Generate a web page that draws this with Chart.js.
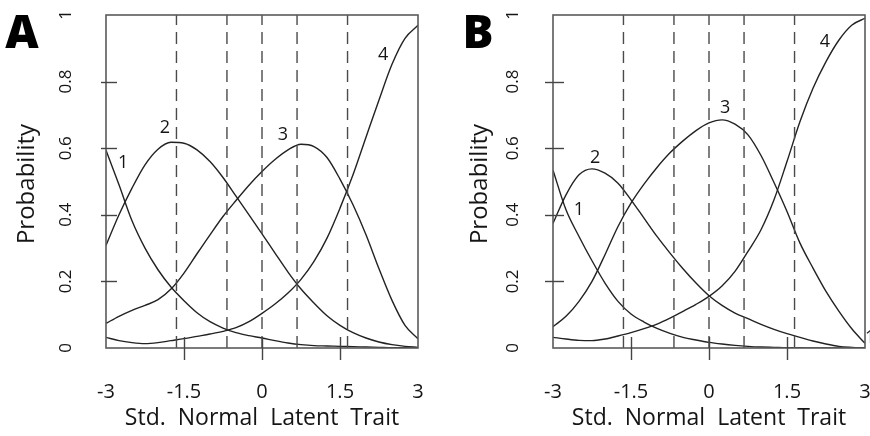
<!DOCTYPE html>
<html>
<head>
<meta charset="utf-8">
<script src="https://cdn.jsdelivr.net/npm/chart.js@4.4.1/dist/chart.umd.min.js"></script>
<style>
  html, body { margin: 0; padding: 0; background: #fff; }
  #wrap { position: relative; width: 870px; height: 436px; overflow: hidden; }
  canvas { position: absolute; top: 0; }
</style>
</head>
<body>
<div id="wrap">
  <canvas id="chartA" width="435" height="436" style="left:0"></canvas>
  <canvas id="chartB" width="435" height="436" style="left:435px"></canvas>
</div>
<script>
// latent trait grid
const traitX = [-3, -2.75, -2.5, -2.25, -2, -1.75, -1.5, -1.25, -1, -0.75, -0.5, -0.25, 0,
  0.25, 0.5, 0.75, 1, 1.25, 1.5, 1.75, 2, 2.25, 2.5, 2.75, 3];

// panel A category curves
const a1 = [0.594, 0.49, 0.382, 0.3, 0.235, 0.183, 0.142, 0.106, 0.079, 0.06, 0.046, 0.037, 0.03,
  0.022, 0.015, 0.01, 0.007, 0.006, 0.005, 0.004, 0.003, 0.002, 0.001, 0.001, 0.0];
const a2 = [0.308, 0.40, 0.48, 0.55, 0.597, 0.618, 0.615, 0.595, 0.56, 0.512, 0.456, 0.40, 0.343,
  0.285, 0.228, 0.177, 0.135, 0.097, 0.068, 0.046, 0.03, 0.018, 0.01, 0.005, 0.002];
const a3 = [0.074, 0.095, 0.113, 0.128, 0.145, 0.177, 0.225, 0.283, 0.34, 0.395, 0.443, 0.489, 0.53,
  0.566, 0.595, 0.612, 0.605, 0.572, 0.507, 0.43, 0.34, 0.238, 0.143, 0.068, 0.028];
const a4 = [0.032, 0.022, 0.016, 0.013, 0.016, 0.022, 0.028, 0.035, 0.042, 0.05, 0.061, 0.079, 0.104,
  0.132, 0.165, 0.206, 0.26, 0.33, 0.42, 0.52, 0.633, 0.745, 0.852, 0.93, 0.969];

// panel B category curves
const b1 = [0.534, 0.415, 0.335, 0.262, 0.195, 0.14, 0.102, 0.078, 0.059, 0.044, 0.032, 0.024, 0.017,
  0.012, 0.008, 0.005, 0.003, 0.002, 0.001, 0.001, 0.0, 0.0, 0.0, 0.0, 0.0];
const b2 = [0.374, 0.46, 0.52, 0.538, 0.525, 0.495, 0.445, 0.39, 0.335, 0.285, 0.238, 0.195, 0.157,
  0.128, 0.105, 0.088, 0.071, 0.056, 0.043, 0.032, 0.021, 0.012, 0.005, 0.002, 0.0];
const b3 = [0.064, 0.095, 0.14, 0.2, 0.28, 0.365, 0.435, 0.492, 0.542, 0.586, 0.622, 0.653, 0.676,
  0.685, 0.672, 0.64, 0.578, 0.497, 0.41, 0.315, 0.24, 0.17, 0.11, 0.057, 0.014];
const b4 = [0.032, 0.027, 0.023, 0.022, 0.027, 0.036, 0.046, 0.058, 0.072, 0.09, 0.11, 0.131, 0.155,
  0.186, 0.23, 0.29, 0.355, 0.445, 0.56, 0.68, 0.78, 0.86, 0.925, 0.97, 0.99];

// dashed reference lines (normal quantiles)
const cutPoints = [-1.645, -0.674, 0, 0.674, 1.645];

const xTickLabels = ['-3', '-1.5', '0', '1.5', '3'];
const yTickLabels = ['0', '0.2', '0.4', '0.6', '0.8', '1'];
const xTitle = 'Std.  Normal  Latent  Trait';
const yTitle = 'Probability';

// curve label positions in data units
const labelsA = [['1', -2.67, 0.555], ['2', -1.865, 0.66], ['3', 0.404, 0.639], ['4', 2.33, 0.879]];
const labelsB = [['1', -2.5, 0.414], ['2', -2.19, 0.57], ['3', 0.31, 0.72], ['4', 2.23, 0.918], ['1', 3.1, 0.03]];

const FONT = "'Open Sans', 'Noto Sans', sans-serif";

const toPoints = (ys) => traitX.map((x, i) => ({ x: x, y: ys[i] }));

const framePlugin = {
  id: 'frame',
  afterDraw(chart) {
    const ctx = chart.ctx;
    const area = chart.chartArea;
    const xs = chart.scales.x;
    const ys = chart.scales.y;
    const opt = chart.options.plugins.frame;
    ctx.save();

    ctx.strokeStyle = '#5a5a5a';
    ctx.lineWidth = 1.6;
    ctx.strokeRect(area.left, area.top, area.right - area.left, area.bottom - area.top);

    // ticks crossing the axes
    ctx.strokeStyle = '#444';
    ctx.lineWidth = 1.4;
    yTickLabels.forEach((t) => {
      const v = parseFloat(t);
      if (v <= 0 || v >= 1) return;
      const py = Math.round(ys.getPixelForValue(v)) + 0.5;
      ctx.beginPath();
      ctx.moveTo(area.left - opt.yTickOut, py);
      ctx.lineTo(area.left + 11, py);
      ctx.stroke();
    });
    xTickLabels.forEach((t) => {
      const v = parseFloat(t);
      if (v <= -3 || v >= 3) return;
      const px = Math.round(xs.getPixelForValue(v)) + 0.5;
      ctx.beginPath();
      ctx.moveTo(px, area.bottom - 11);
      ctx.lineTo(px, area.bottom + 12);
      ctx.stroke();
    });

    ctx.fillStyle = '#151515';
    ctx.textAlign = 'center';
    ctx.textBaseline = 'middle';

    // y tick labels, rotated
    ctx.font = '17px ' + FONT;
    yTickLabels.forEach((t) => {
      const py = ys.getPixelForValue(parseFloat(t));
      ctx.save();
      ctx.translate(area.left - 40, py);
      ctx.rotate(-Math.PI / 2);
      ctx.fillText(t, 0, 0);
      ctx.restore();
    });

    // x tick labels
    ctx.font = '20px ' + FONT;
    xTickLabels.forEach((t) => {
      ctx.fillText(t, xs.getPixelForValue(parseFloat(t)), area.bottom + 44);
    });

    // axis titles
    ctx.font = '23px ' + FONT;
    ctx.fillText(xTitle, (area.left + area.right) / 2, area.bottom + 70);
    ctx.font = '24px ' + FONT;
    ctx.save();
    ctx.translate(area.left - opt.yTitleGap, 184);
    ctx.rotate(-Math.PI / 2);
    ctx.fillText(yTitle, 0, 0);
    ctx.restore();

    // curve numbers
    ctx.font = '18px ' + FONT;
    opt.curveLabels.forEach((l) => {
      ctx.fillText(l[0], xs.getPixelForValue(l[1]), ys.getPixelForValue(l[2]));
    });

    // panel letter
    ctx.font = '800 46px ' + FONT;
    ctx.fillStyle = '#000';
    ctx.fillText(opt.panel, opt.panelX, 35);

    ctx.restore();
  }
};

function makeChart(id, panel, curves, curveLabels, padLeft, padRight, yTickOut, yTitleGap, panelX) {
  const datasets = [];
  cutPoints.forEach((q) => {
    datasets.push({
      data: [{ x: q, y: 0 }, { x: q, y: 1 }],
      borderColor: '#4a4a4a',
      borderWidth: 1.4,
      borderDash: [12, 7],
      pointRadius: 0
    });
  });
  curves.forEach((c) => {
    datasets.push({
      data: toPoints(c),
      borderColor: '#222',
      borderWidth: 1.4,
      pointRadius: 0,
      cubicInterpolationMode: 'monotone'
    });
  });

  return new Chart(document.getElementById(id), {
    type: 'line',
    data: { datasets: datasets },
    options: {
      responsive: false,
      animation: false,
      layout: { padding: { left: padLeft, right: padRight, top: 15, bottom: 88 } },
      scales: {
        x: { type: 'linear', min: -3, max: 3, display: false },
        y: { type: 'linear', min: 0, max: 1, display: false }
      },
      plugins: {
        legend: { display: false },
        tooltip: { enabled: false },
        frame: {
          panel: panel,
          panelX: panelX,
          curveLabels: curveLabels,
          yTickOut: yTickOut,
          yTitleGap: yTitleGap
        }
      }
    },
    plugins: [framePlugin]
  });
}

makeChart('chartA', 'A', [a1, a2, a3, a4], labelsA, 106, 17, 5, 79, 22);
makeChart('chartB', 'B', [b1, b2, b3, b4], labelsB, 118, 5, 8, 73, 43);
</script>
</body>
</html>
